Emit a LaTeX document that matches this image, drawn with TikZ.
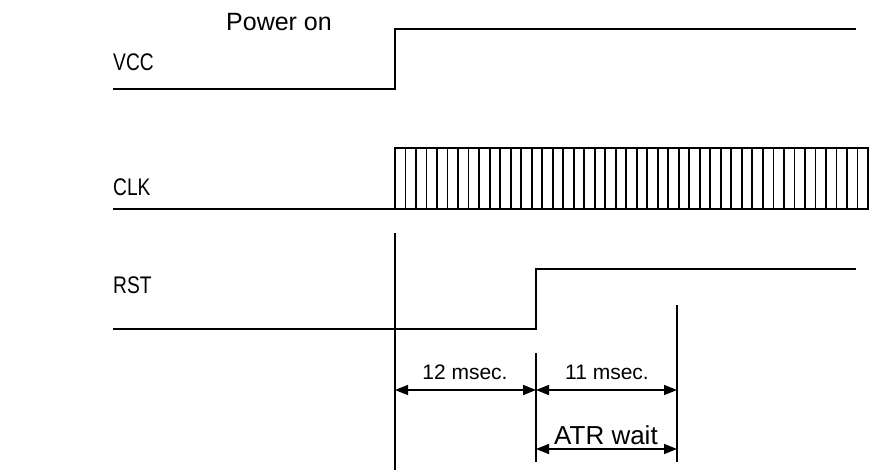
\documentclass[tikz,border=0pt]{standalone}
\usepackage{fontspec}
\usepackage{graphicx}
\setmainfont{Liberation Sans}
\usetikzlibrary{arrows.meta}
\newcommand{\narrowlbl}[1]{\scalebox{0.8}[1]{#1}}
\begin{document}
\begin{tikzpicture}[x=1pt,y=-1pt,
  sig/.style={line width=1.8pt, line join=miter},
  guide/.style={line width=1.6pt},
  dim/.style={line width=1.6pt, {Triangle[length=13pt,width=10pt]}-{Triangle[length=13pt,width=10pt]}},
  lbl/.style={font=\fontsize{24}{26}\selectfont, anchor=west, inner sep=0pt},
  dlbl/.style={font=\fontsize{21}{23}\selectfont, inner sep=0pt},
  big/.style={font=\fontsize{26}{28}\selectfont, inner sep=0pt}]
\useasboundingbox (0,0) rectangle (870,474);
% labels
\node[lbl] (vcc) at (113,62) {\narrowlbl{VCC}};
\node[lbl] (clk) at (113,187) {\narrowlbl{CLK}};
\node[lbl] (rst) at (113,285) {\narrowlbl{RST}};
\node[font=\fontsize{25}{27}\selectfont, inner sep=0pt] (pwr) at (279,22) {Power on};
% VCC
\draw[sig] (113,89) -- (395,89) -- (395,29) -- (856,29);
% CLK
\draw[sig] (113,209) -- (395,209);
\draw[line width=1.8pt] (395,148) rectangle (868,209);
\foreach \k in {1,...,44} {
  \draw[line width=1.8pt] ({395+\k*10.511},148) -- ({395+\k*10.511},209);
}
% RST
\draw[sig] (113,329) -- (536,329) -- (536,269) -- (856,269);
% guides
\coordinate (g1t) at (395,233); \coordinate (g1b) at (395,470);
\coordinate (g2t) at (536,353); \coordinate (g2b) at (536,462);
\coordinate (g3t) at (677,305); \coordinate (g3b) at (677,462);
\draw[guide] (g1t) -- (g1b);
\draw[guide] (g2t) -- (g2b);
\draw[guide] (g3t) -- (g3b);
% dimension arrows
\coordinate (a1) at (395,390); \coordinate (a2) at (536,390); \coordinate (a3) at (677,390);
\coordinate (b2) at (536,449); \coordinate (b3) at (677,449);
\draw[dim] (a1) -- (a2);
\draw[dim] (a2) -- (a3);
\draw[dim] (b2) -- (b3);
\node[dlbl] (t12) at (465,372) {12 msec.};
\node[dlbl] (t11) at (607,372) {11 msec.};
\node[big] (atr) at (606,435) {ATR wait};
\end{tikzpicture}
\end{document}
